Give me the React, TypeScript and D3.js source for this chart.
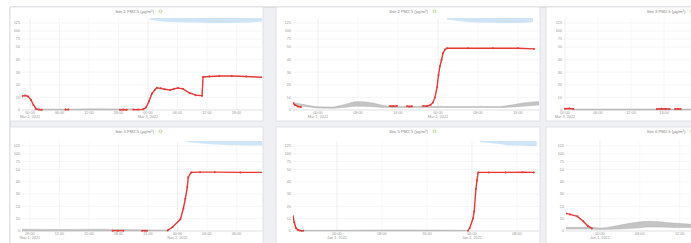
import React from 'react';
import * as d3 from 'd3';

// y tick values shared by every panel
const yTicks = [0, 10, 20, 30, 40, 50, 75, 100, 125];

// ---- panel 1 (Mar 2, 2022) ----
const p1Hours = [-1.6, -1.0, -0.4, 0.2, 0.7, 1.2, 1.8, 2.4, 4, 7.2, 7.8, 12, 18.3, 19.0, 19.7, 20.3, 21.0, 22.0, 23.0, 23.6, 24.2, 24.8, 25.4, 25.8, 26.6, 27.4, 28.5, 29.3, 30.1, 31.1, 32.5, 33.7, 35.0, 35.2, 36.5, 38.5, 41, 44, 47.4];
const p1Red = [11, 11.5, 10.8, 8, 4, 1, 0.3, 0.2, null, 0.3, 0.3, null, 0.2, 0.3, 0.2, null, 0.3, 0.3, 0.5, 2, 7, 13, 16, 17.7, 17.2, 16.5, 15.9, 16.8, 17.5, 16.8, 13.5, 11.8, 11.4, 26.2, 26.6, 27, 27, 26.6, 26];
const p1GrayHours = [1, 6, 12, 18, 23];
const p1GrayLow = [0, 0, 0, 0, 0];
const p1GrayHigh = [0.8, 0.7, 0.9, 0.8, 0.8];
const p1BlueHours = [24.4, 26, 29, 33, 37, 41, 45, 47.4];
const p1BlueDepth = [0.3, 0.6, 0.8, 0.9, 1, 1, 0.9, 0.7];

// ---- panel 2 (Mar 1, 2022) ----
const p2Hours = [-5.0, -4.6, -4.0, -3.4, 0, 14.4, 15.0, 15.8, 16.8, 17.8, 18.3, 18.8, 20, 21.0, 21.8, 22.5, 23.0, 23.4, 23.8, 24.1, 24.4, 24.7, 25.0, 25.4, 25.8, 30, 35, 40, 43.2];
const p2Red = [5.6, 4, 2.8, 2.4, null, 3.2, 3.0, 3.2, null, 3, 2.8, 3, null, 3.2, 3.2, 4, 6, 10, 18, 27.8, 35, 39.7, 45, 48, 49, 49, 49, 49, 48.5];
const p2GrayHours = [-5.0, -3, 0, 3, 4, 6, 7.4, 9, 11, 12.4, 14.4, 18, 24, 30, 36, 37, 39, 41, 43, 44.4];
const p2GrayLow = [4.5, 3.0, 1.6, 1.4, 1.6, 2.4, 3.0, 3.0, 2.6, 2.2, 2.0, 2.0, 2.0, 2.0, 2.0, 2.0, 2.4, 3.0, 3.6, 4.0];
const p2GrayHigh = [6.0, 4.5, 2.6, 2.4, 3.2, 5.0, 6.6, 6.6, 5.5, 4.2, 3.0, 2.8, 2.8, 2.8, 2.8, 3.0, 4.2, 5.5, 6.4, 6.8];
const p2BlueHours = [25.8, 28, 32, 36, 40, 43];
const p2BlueDepth = [0.3, 0.6, 0.9, 1, 1, 0.8];

// ---- panel 3 (Mar 3, 2022) ----
const p3Hours = [0, 0.8, 1.5, 2.5, 16.7, 17.5, 18.3, 19.0, 19.5, 20.0, 20.5, 21.0];
const p3Red = [1, 1.2, 0.8, null, 0.8, 1, 0.8, 0.8, null, 0.8, 0.8, 0.8];
const p3GrayHours = [1.5, 10, 20, 30, 43.8];
const p3GrayLow = [0, 0, 0, 0, 0];
const p3GrayHigh = [0.8, 0.8, 0.8, 0.8, 0.8];

// ---- panel 4 (Nov 1, 2021) ----
const p4Hours = [17.4, 17.95, 18.5, 19.5, 20.4, 20.7, 20.9, 22, 23.0, 23.5, 24.3, 24.6, 24.8, 25.0, 25.1, 25.4, 26.3, 27.8, 30.4, 32.7];
const p4Red = [0.3, 0.3, 0.3, null, 0.3, 0.3, 0.3, null, 0.5, 3.2, 9.5, 18.3, 26.2, 35.7, 43.7, 47.6, 47.8, 47.8, 47.6, 47.6];
const p4GrayHours = [8.2, 12, 16, 20, 23];
const p4GrayLow = [0, 0, 0, 0, 0];
const p4GrayHigh = [1.5, 1.2, 1.5, 1.0, 0.8];
const p4BlueHours = [25.0, 27, 29, 31, 32.7];
const p4BlueDepth = [0.2, 0.6, 0.8, 0.9, 0.9];

// ---- panel 5 (Jan 1, 2021) ----
const p5Hours = [-7.8, -7.6, -7.3, -6.9, -6.6, -6.3, -6.0, 0, 23.3, 23.6, 24.2, 24.4, 24.7, 24.9, 25.1, 27, 30, 33, 35];
const p5Red = [11.9, 7.1, 2.4, 0.8, 0.4, 0.3, 0.3, null, 0.3, 2.4, 10.3, 15.9, 34.1, 41.3, 47.6, 47.6, 47.6, 47.8, 47.6];
const p5GrayHours = [-6, 0, 6, 11, 16, 21, 23];
const p5GrayLow = [0, 0, 0, 0, 0, 0, 0];
const p5GrayHigh = [0.6, 0.6, 0.8, 0.9, 0.8, 0.7, 0.6];
const p5BlueHours = [25.4, 28, 31, 34, 35.5];
const p5BlueDepth = [0.2, 0.5, 0.9, 1, 1];

// ---- panel 6 (Jan 1, 2021) ----
const p6Hours = [-5.1, -4.5, -3.4, -2.5, -1.8, -1.2];
const p6Red = [14.3, 13.5, 11.9, 7.9, 4, 2.1];
const p6GrayHours = [-5.1, -1.5, 0, 3, 5.5, 7.5, 9, 11, 13.5, 18];
const p6GrayLow = [1.6, 1.6, 1.2, 1.6, 2.4, 3.2, 3.2, 2.8, 2.8, 2.4];
const p6GrayHigh = [3.0, 3.0, 2.4, 4.8, 7.1, 7.9, 7.5, 6.4, 5.6, 5.0];

const titles = [
  'Site 1 PM2.5 (µg/m³)',
  'Site 2 PM2.5 (µg/m³)',
  'Site 3 PM2.5 (µg/m³)',
  'Site 4 PM2.5 (µg/m³)',
  'Site 5 PM2.5 (µg/m³)',
  'Site 6 PM2.5 (µg/m³)',
];

type Panel = {
  title: string;
  x0: number; x1: number; y0: number; y1: number;
  axisX: number; plotTop: number; bottom: number;
  base: Date; start: number; end: number; step: number;
  hours: number[]; red: (number | null)[];
  grayHours: number[]; grayLow: number[]; grayHigh: number[];
  blueHours?: number[]; blueDepth?: number[];
};

const panels: Panel[] = [
  { title: titles[0], x0: 10, x1: 263, y0: 7, y1: 121, axisX: 22, plotTop: 18, bottom: 110,
    base: new Date(2022, 2, 2), start: -1.63, end: 47.4, step: 6,
    hours: p1Hours, red: p1Red, grayHours: p1GrayHours, grayLow: p1GrayLow, grayHigh: p1GrayHigh,
    blueHours: p1BlueHours, blueDepth: p1BlueDepth },
  { title: titles[1], x0: 276, x1: 540, y0: 7, y1: 121, axisX: 293, plotTop: 18, bottom: 110,
    base: new Date(2022, 2, 1), start: -5.0, end: 44.4, step: 8,
    hours: p2Hours, red: p2Red, grayHours: p2GrayHours, grayLow: p2GrayLow, grayHigh: p2GrayHigh,
    blueHours: p2BlueHours, blueDepth: p2BlueDepth },
  { title: titles[2], x0: 546, x1: 806, y0: 7, y1: 121, axisX: 564, plotTop: 18, bottom: 110,
    base: new Date(2022, 2, 3), start: -0.18, end: 43.8, step: 6,
    hours: p3Hours, red: p3Red, grayHours: p3GrayHours, grayLow: p3GrayLow, grayHigh: p3GrayHigh },
  { title: titles[3], x0: 10, x1: 263, y0: 127, y1: 250, axisX: 22, plotTop: 141, bottom: 231,
    base: new Date(2021, 10, 1), start: 8.19, end: 32.7, step: 3,
    hours: p4Hours, red: p4Red, grayHours: p4GrayHours, grayLow: p4GrayLow, grayHigh: p4GrayHigh,
    blueHours: p4BlueHours, blueDepth: p4BlueDepth },
  { title: titles[4], x0: 276, x1: 540, y0: 127, y1: 250, axisX: 293, plotTop: 141, bottom: 231,
    base: new Date(2021, 0, 1), start: -7.82, end: 36.1, step: 8,
    hours: p5Hours, red: p5Red, grayHours: p5GrayHours, grayLow: p5GrayLow, grayHigh: p5GrayHigh,
    blueHours: p5BlueHours, blueDepth: p5BlueDepth },
  { title: titles[5], x0: 546, x1: 806, y0: 127, y1: 250, axisX: 566, plotTop: 141, bottom: 231,
    base: new Date(2021, 0, 1), start: -5.1, end: 31, step: 6,
    hours: p6Hours, red: p6Red, grayHours: p6GrayHours, grayLow: p6GrayLow, grayHigh: p6GrayHigh },
];

const hourMs = 3600 * 1000;
const toDate = (base: Date, h: number) => new Date(base.getTime() + h * hourMs);
const fmtTime = d3.timeFormat('%H:%M');
const fmtDate = d3.timeFormat('%b %-d, %Y');
const red = '#e53935';
const font = 'Liberation Sans, Arial, sans-serif';
const viewW = 691;

function ChartPanel({ p, idx }: { p: Panel; idx: number }) {
  const plotH = p.bottom - (p.plotTop + 5);
  const x = d3.scaleTime()
    .domain([toDate(p.base, p.start), toDate(p.base, p.end)])
    .range([p.axisX, p.x1]);
  const y = d3.scaleLinear()
    .domain([0, 50, 125])
    .range([p.bottom, p.bottom - plotH * 0.724, p.bottom - plotH]);
  const ticks = x.ticks(d3.timeHour.every(p.step)!);

  const pts = p.hours.map((h, i) => ({ t: toDate(p.base, h), v: p.red[i] }));
  const line = d3.line<{ t: Date; v: number | null }>()
    .defined(d => d.v != null)
    .x(d => x(d.t))
    .y(d => y(d.v as number));

  const gray = p.grayHours.map((h, i) => ({ t: toDate(p.base, h), lo: p.grayLow[i], hi: p.grayHigh[i] }));
  const grayArea = d3.area<{ t: Date; lo: number; hi: number }>()
    .curve(d3.curveMonotoneX)
    .x(d => x(d.t)).y0(d => y(d.lo)).y1(d => y(d.hi));

  const blueY = d3.scaleLinear().domain([0, 1]).range([p.plotTop, p.plotTop + 5]);
  const blue = (p.blueHours || []).map((h, i) => ({ t: toDate(p.base, h), d: p.blueDepth![i] }));
  const blueArea = d3.area<{ t: Date; d: number }>()
    .curve(d3.curveMonotoneX)
    .x(d => x(d.t)).y0(p.plotTop).y1(d => blueY(d.d));

  const clipId = `clip${idx}`;
  const cx = idx % 3 === 2 ? 666 : (p.axisX + p.x1) / 2 - 8;

  return (
    <g>
      <defs>
        <clipPath id={clipId}>
          <rect x={p.axisX} y={p.plotTop} width={p.x1 - p.axisX - 1} height={p.bottom - p.plotTop + 1} />
        </clipPath>
      </defs>
      <rect x={p.x0} y={p.y0} width={p.x1 - p.x0} height={p.y1 - p.y0} fill="#fff" stroke="#dcdde0" strokeWidth={0.8} />
      <text x={cx} y={p.y0 + 5.5} fontSize={4.2} fill="#888" textAnchor="middle" fontFamily={font}>{p.title}</text>
      <circle cx={cx + 26} cy={p.y0 + 4.2} r={1.4} fill="none" stroke="#8bc34a" strokeWidth={0.6} />
      {yTicks.map(t => (
        <g key={t}>
          <line x1={p.axisX} x2={p.x1 - 1} y1={y(t)} y2={y(t)} stroke="#f0f0f0" strokeWidth={0.6} />
          <text x={p.axisX - 2} y={y(t) + 1.3} fontSize={3.8} fill="#999" textAnchor="end" fontFamily={font}>{t}</text>
        </g>
      ))}
      {ticks.map((t, i) => {
        const tx = x(t);
        const showDate = i === 0 || t.getHours() === 0;
        const labelFits = tx + 6 < viewW && (!showDate || tx + 12 < viewW);
        return (
          <g key={i}>
            <line x1={tx} x2={tx} y1={p.plotTop} y2={p.bottom} stroke={t.getHours() === 0 ? '#e8e8e8' : '#f3f3f3'} strokeWidth={0.7} />
            {labelFits && (
              <text x={tx} y={p.bottom + 4} fontSize={3.8} fill="#999" textAnchor="middle" fontFamily={font}>{fmtTime(t)}</text>
            )}
            {labelFits && showDate && (
              <text x={tx} y={p.bottom + 8.2} fontSize={3.8} fill="#999" textAnchor="middle" fontFamily={font}>{fmtDate(t)}</text>
            )}
          </g>
        );
      })}
      <line x1={p.axisX} x2={p.x1 - 1} y1={p.bottom} y2={p.bottom} stroke="#d6d6d6" strokeWidth={0.6} />
      <g clipPath={`url(#${clipId})`}>
        {blue.length > 0 && <path d={blueArea(blue) || ''} fill="#cfe5f5" />}
        <path d={grayArea(gray) || ''} fill="#c4c4c4" stroke="#a9a9a9" strokeWidth={0.4} />
        <path d={line(pts) || ''} fill="none" stroke={red} strokeWidth={1.4} />
        {pts.filter(d => d.v != null).map((d, i) => (
          <circle key={i} cx={x(d.t)} cy={y(d.v as number)} r={1} fill={red} />
        ))}
      </g>
    </g>
  );
}

export default function App() {
  return (
    <svg width={691} height={243} style={{ position: 'absolute', left: 0, top: 0, display: 'block' }}>
      <rect x={0} y={0} width={691} height={243} fill="#fff" />
      <rect x={10} y={7} width={700} height={260} fill="#eef0f3" stroke="#c4c4c4" strokeWidth={0.8} />
      {panels.map((p, i) => <ChartPanel key={i} p={p} idx={i} />)}
    </svg>
  );
}
